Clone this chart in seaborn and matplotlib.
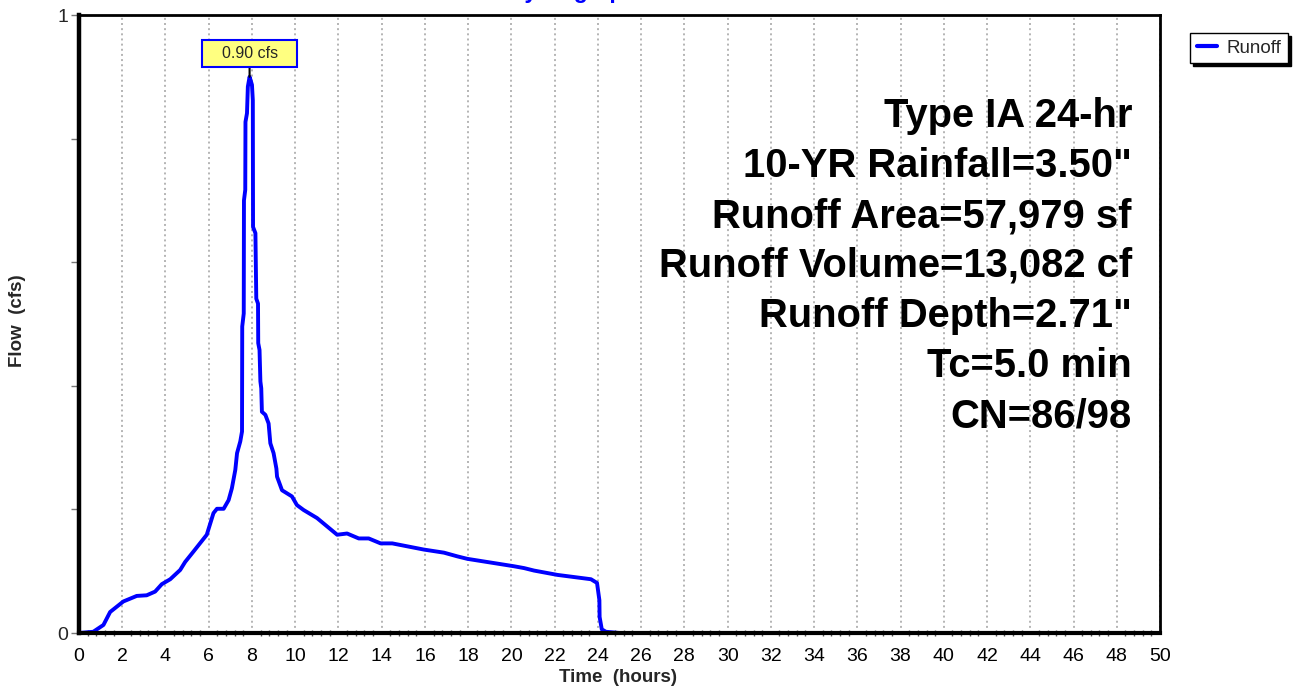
import numpy as np
import pandas as pd
import matplotlib
matplotlib.use('Agg')
import matplotlib.pyplot as plt
from matplotlib.path import Path
from matplotlib.ticker import MultipleLocator, FixedLocator, FixedFormatter
import seaborn as sns

# hydrograph
time_hr = [0, 0.66, 1.13, 1.44, 2.05, 2.67, 3.13, 3.52, 3.83, 4.22,
           4.68, 4.91, 5.30, 5.91, 6.22, 6.38, 6.69, 6.92, 7.07, 7.23,
           7.31, 7.46, 7.54, 7.55, 7.62, 7.63, 7.69, 7.70, 7.77, 7.81,
           7.89, 8.00, 8.04, 8.05, 8.16, 8.20, 8.28, 8.29, 8.35, 8.39,
           8.43, 8.46, 8.62, 8.77, 8.85, 9.00, 9.13, 9.16, 9.39, 9.62,
           9.85, 10.08, 10.39, 11.01, 11.94, 12.40, 12.94, 13.40, 13.95, 14.49,
           15.95, 16.88, 17.50, 17.96, 20.12, 20.59, 21.05, 22.13, 23.68, 23.96,
           24.07, 24.08, 24.18, 24.37, 25.0, 50.0]
flow_cfs = [0, 0.002, 0.013, 0.034, 0.051, 0.060, 0.061, 0.067, 0.079, 0.087,
            0.102, 0.115, 0.132, 0.159, 0.194, 0.201, 0.201, 0.215, 0.234, 0.264,
            0.291, 0.310, 0.326, 0.496, 0.517, 0.700, 0.717, 0.827, 0.841, 0.884,
            0.900, 0.887, 0.862, 0.657, 0.647, 0.541, 0.533, 0.469, 0.458, 0.407,
            0.396, 0.358, 0.353, 0.339, 0.307, 0.291, 0.266, 0.253, 0.231, 0.226,
            0.221, 0.207, 0.199, 0.186, 0.159, 0.161, 0.153, 0.153, 0.145, 0.145,
            0.135, 0.130, 0.124, 0.120, 0.108, 0.105, 0.101, 0.094, 0.087, 0.081,
            0.053, 0.026, 0.006, 0.002, 0.0, 0.0]
assert len(time_hr) == len(flow_cfs)

info_lines = ['Type IA 24-hr', '10-YR Rainfall=3.50"', 'Runoff Area=57,979 sf',
              'Runoff Volume=13,082 cf', 'Runoff Depth=2.71"', 'Tc=5.0 min', 'CN=86/98']
peak_label = '0.90 cfs'
y_ticks = [0, 0.2, 0.4, 0.6, 0.8, 1.0]
y_ticklabels = ['0', '', '', '', '', '1']

df = pd.DataFrame({'Time': time_hr, 'Flow': flow_cfs, 'series': 'Runoff'})

sns.set_theme(style='white')
plt.rcParams['font.family'] = ['Liberation Sans', 'DejaVu Sans']

W, H = 1294, 688
fig = plt.figure(figsize=(W / 100, H / 100), dpi=100)
ax = fig.add_axes([79 / W, 1 - 633 / H, (1160 - 79) / W, (633 - 15) / H])

sns.lineplot(data=df, x='Time', y='Flow', hue='series', palette=['#0000ff'],
             sort=False, linewidth=2.8, ax=ax)

ax.set_xlim(0, 50)
ax.set_ylim(0, 1)
ax.xaxis.set_major_locator(MultipleLocator(2))
ax.xaxis.set_minor_locator(MultipleLocator(0.4))
ax.yaxis.set_major_locator(FixedLocator(y_ticks))
ax.yaxis.set_major_formatter(FixedFormatter(y_ticklabels))
ax.tick_params(axis='x', which='major', direction='out', length=7, width=1.2,
               color='#555555', labelsize=14, pad=4, labelcolor='black')
ax.tick_params(axis='x', which='minor', direction='inout', length=5, width=1,
               color='#555555', bottom=True)
ax.tick_params(axis='y', which='major', direction='out', length=6, width=1,
               color='#777777', labelsize=14, pad=2, left=True)
ax.xaxis.grid(True, which='major', color='#b4b4b4', linestyle=':', linewidth=1.4)
ax.xaxis.grid(False, which='minor')
ax.yaxis.grid(False)
ax.axhline(1, color='#999999', linestyle=':', linewidth=1, zorder=1)

for side, lw in [('left', 3.2), ('bottom', 3.0), ('top', 2.0), ('right', 2.0)]:
    ax.spines[side].set_visible(True)
    ax.spines[side].set_color('black')
    ax.spines[side].set_linewidth(lw)

ax.set_xlabel('Time  (hours)', fontsize=13.5, fontweight='bold')
ax.set_ylabel('Flow  (cfs)', fontsize=13.5, fontweight='bold')
ax.xaxis.set_label_coords((618 - 79) / 1081, (633 - 678) / 618)
ax.yaxis.set_label_coords((18 - 79) / 1081, (633 - 321) / 618)
ax.xaxis.label.set_va('center')
ax.yaxis.label.set_va('center')


def wide_box(x0, y0, width, height, mutation_size):
    padx = 1.2 * mutation_size
    pady = 0.38 * mutation_size
    x0, x1 = x0 - padx, x0 + width + padx
    y0, y1 = y0 - pady, y0 + height + pady
    return Path([(x0, y0), (x1, y0), (x1, y1), (x0, y1), (x0, y0)],
                [Path.MOVETO, Path.LINETO, Path.LINETO, Path.LINETO, Path.CLOSEPOLY])


ipk = int(np.argmax(flow_cfs))
ax.annotate(peak_label, xy=(time_hr[ipk], flow_cfs[ipk]), xytext=(0, 23),
            textcoords='offset pixels', ha='center', va='center', fontsize=11.5,
            bbox=dict(boxstyle=wide_box, facecolor='#ffff80', edgecolor='#0000ff', linewidth=1.5),
            arrowprops=dict(arrowstyle='-', color='black', lw=1.5, shrinkA=0, shrinkB=0))

for i, line in enumerate(info_lines):
    fig.text(1132 / W, 1 - (127 + 50 * i) / H, line, ha='right', va='baseline',
             fontsize=28.8, fontweight='bold', color='black')

fig.text(573 / W, 1 + 2 / H, 'Hydrograph', ha='center', va='baseline',
         fontsize=16.5, fontweight='bold', color='#0000ff')

leg = ax.legend(loc='upper left', bbox_to_anchor=(1190 / W, 1 - 33 / H),
                bbox_transform=fig.transFigure, frameon=True, fancybox=False,
                shadow={'color': 'black', 'alpha': 1}, edgecolor='black',
                fontsize=13.5, handlelength=1.1, handletextpad=0.5,
                borderpad=0.35, borderaxespad=0)
leg.get_frame().set_linewidth(1)
for h in leg.get_lines():
    h.set_linewidth(3)

fig.savefig('out.png', dpi=100)
